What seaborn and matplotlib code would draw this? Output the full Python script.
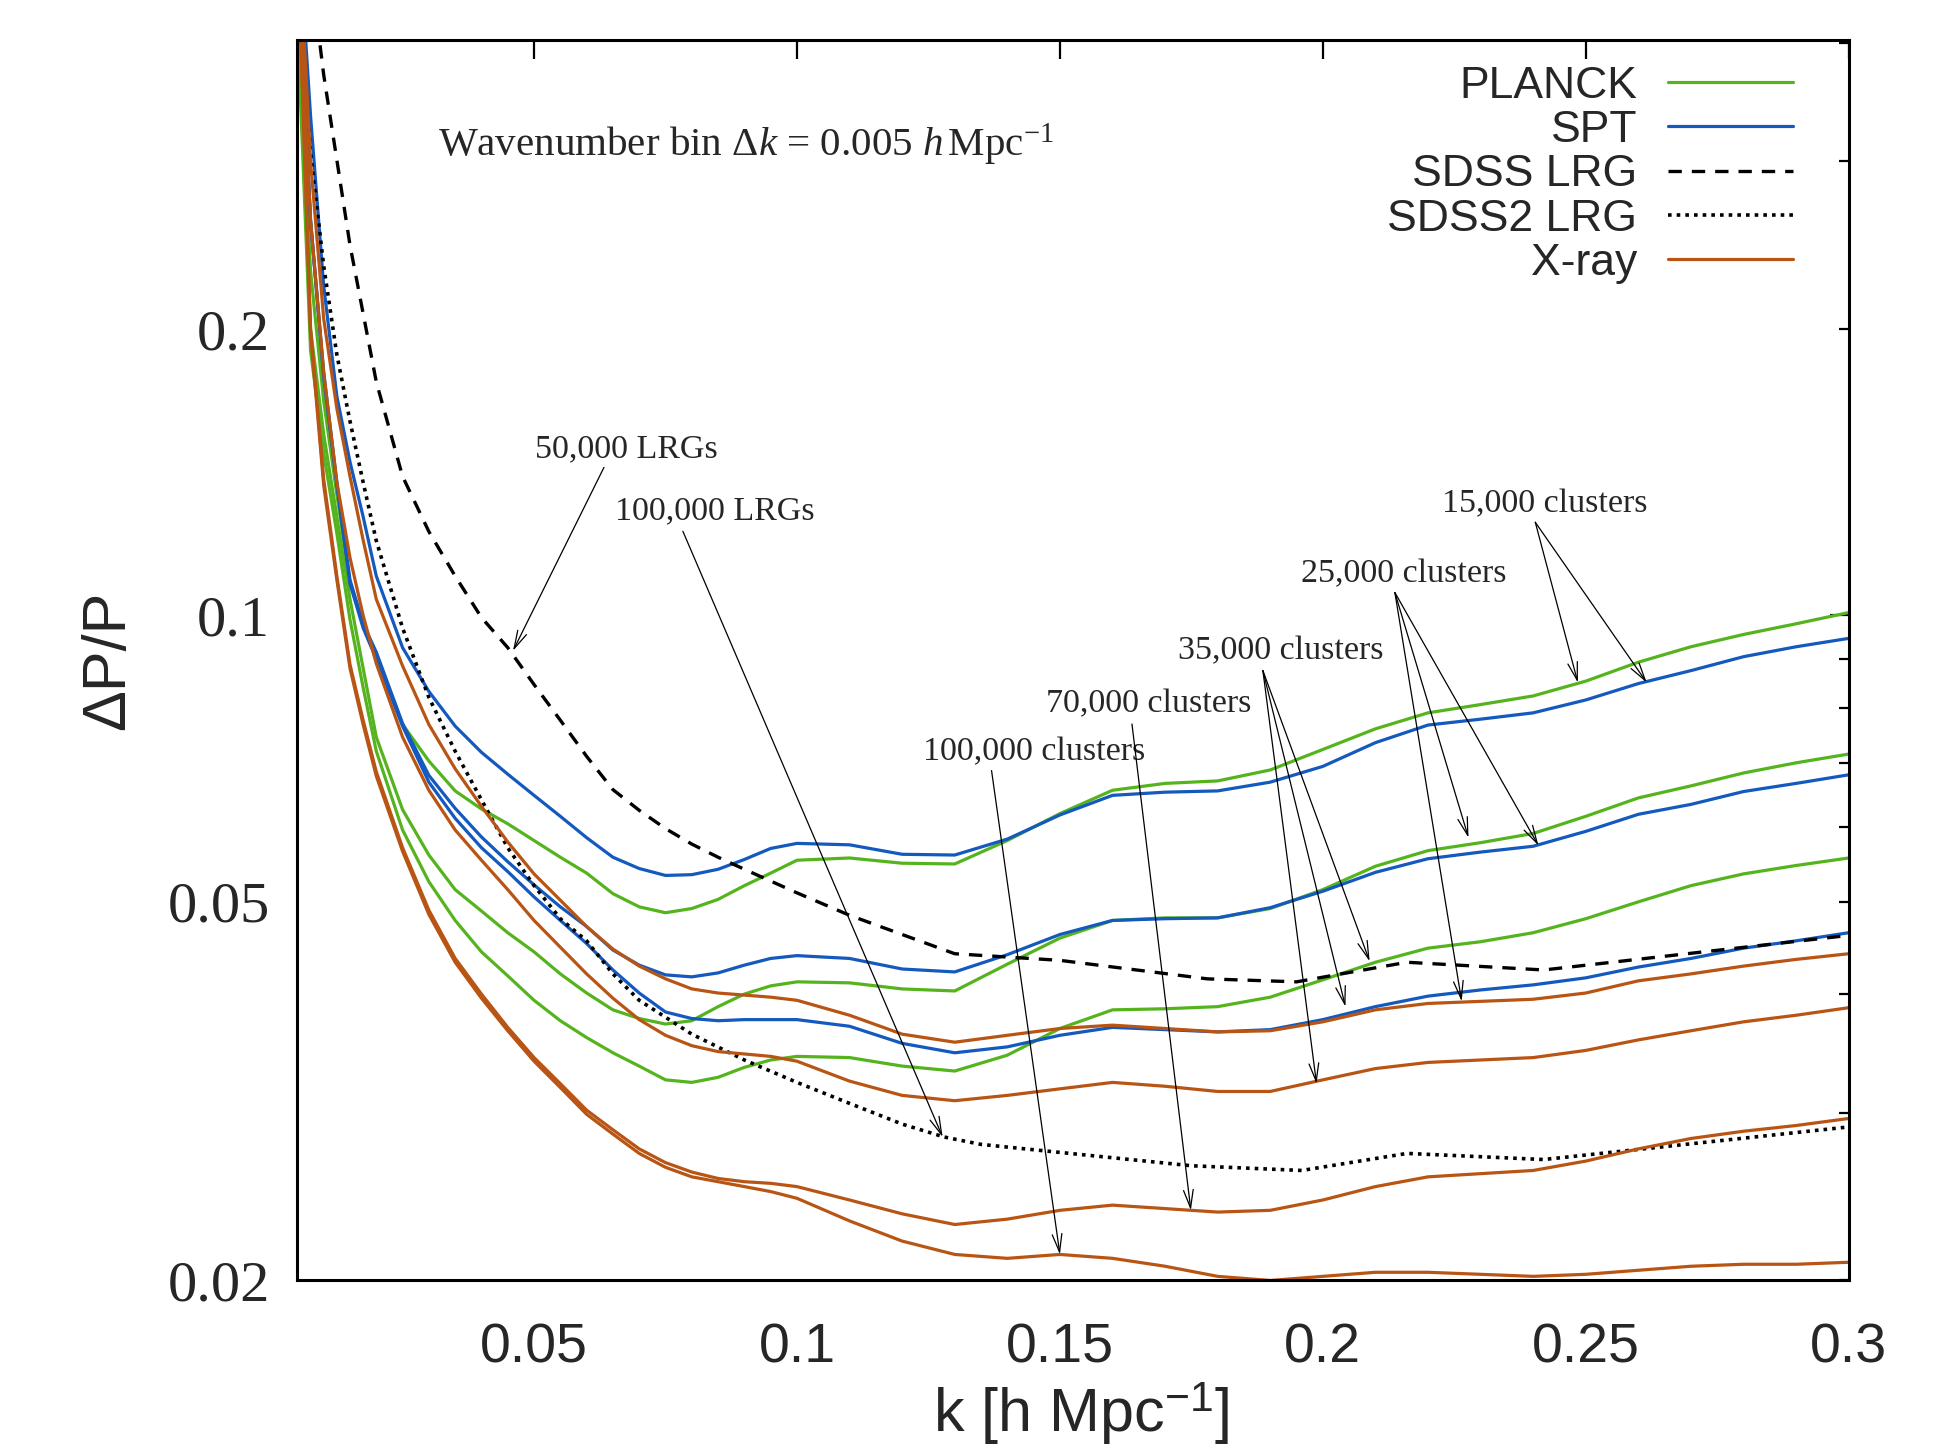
import numpy as np
import pandas as pd
import matplotlib
matplotlib.use('Agg')
import matplotlib.pyplot as plt
import seaborn as sns
from matplotlib.ticker import FixedLocator, FuncFormatter, NullLocator

# wavenumber grid [h/Mpc]
k_grid = [0.005, 0.0075, 0.01, 0.0125, 0.015, 0.0175, 0.02, 0.025, 0.03, 0.035,
          0.04, 0.045, 0.05, 0.055, 0.06, 0.065, 0.07, 0.075, 0.08, 0.085,
          0.09, 0.095, 0.1, 0.11, 0.12, 0.13, 0.14, 0.15, 0.16, 0.17,
          0.18, 0.19, 0.2, 0.21, 0.22, 0.23, 0.24, 0.25, 0.26, 0.27,
          0.28, 0.29, 0.3]

# PLANCK cluster samples
planck_15k = [0.45, 0.23, 0.168, 0.134, 0.108, 0.098, 0.091, 0.0768, 0.0703, 0.0654,
              0.0626, 0.0604, 0.0580, 0.0557, 0.0536, 0.0510, 0.0494, 0.0487, 0.0492, 0.0503,
              0.0520, 0.0536, 0.0553, 0.0556, 0.0549, 0.0548, 0.0580, 0.0619, 0.0655, 0.0666,
              0.0670, 0.0688, 0.0723, 0.0760, 0.0790, 0.0806, 0.0823, 0.0853, 0.0893, 0.0927,
              0.0955, 0.0980, 0.1007]
planck_25k = [0.43, 0.20, 0.155, 0.127, 0.104, 0.088, 0.0745, 0.0625, 0.0560, 0.0515,
              0.0489, 0.0464, 0.0443, 0.0420, 0.0401, 0.0385, 0.0377, 0.0372, 0.0375, 0.0388,
              0.0400, 0.0408, 0.0412, 0.0411, 0.0405, 0.0403, 0.0430, 0.0458, 0.0478, 0.0481,
              0.0481, 0.0492, 0.0515, 0.0545, 0.0566, 0.0577, 0.0590, 0.0615, 0.0643, 0.0662,
              0.0683, 0.0700, 0.0715]
planck_35k = [0.42, 0.19, 0.148, 0.122, 0.099, 0.084, 0.072, 0.0595, 0.0525, 0.0478,
              0.0443, 0.0418, 0.0394, 0.0375, 0.0360, 0.0347, 0.0336, 0.0325, 0.0323, 0.0327,
              0.0335, 0.0341, 0.0344, 0.0343, 0.0336, 0.0332, 0.0345, 0.0368, 0.0385, 0.0386,
              0.0388, 0.0397, 0.0414, 0.0432, 0.0447, 0.0454, 0.0464, 0.0480, 0.0500, 0.0520,
              0.0535, 0.0546, 0.0556]

# SPT cluster samples
spt_15k = [0.55, 0.335, 0.222, 0.170, 0.145, 0.127, 0.110, 0.0925, 0.0832, 0.0765,
           0.0718, 0.0681, 0.0647, 0.0615, 0.0584, 0.0557, 0.0542, 0.0533, 0.0534, 0.0541,
           0.0554, 0.0569, 0.0576, 0.0574, 0.0561, 0.0560, 0.0582, 0.0617, 0.0647, 0.0652,
           0.0654, 0.0668, 0.0694, 0.0735, 0.0767, 0.0778, 0.0790, 0.0815, 0.0848, 0.0875,
           0.0905, 0.0927, 0.0946]
spt_25k = [0.50, 0.26, 0.180, 0.138, 0.109, 0.098, 0.0915, 0.0770, 0.0679, 0.0627,
           0.0585, 0.0551, 0.0521, 0.0494, 0.0471, 0.0445, 0.0429, 0.0419, 0.0417, 0.0421,
           0.0429, 0.0436, 0.0439, 0.0436, 0.0425, 0.0422, 0.0440, 0.0462, 0.0478, 0.0480,
           0.0481, 0.0493, 0.0513, 0.0537, 0.0555, 0.0564, 0.0572, 0.0593, 0.0618, 0.0633,
           0.0653, 0.0666, 0.0680]
spt_35k = [0.50, 0.26, 0.178, 0.137, 0.108, 0.097, 0.090, 0.0765, 0.0668, 0.0612,
           0.0570, 0.0538, 0.0506, 0.0478, 0.0452, 0.0424, 0.0401, 0.0383, 0.0377, 0.0375,
           0.0376, 0.0376, 0.0376, 0.0370, 0.0355, 0.0347, 0.0352, 0.0362, 0.0369, 0.0367,
           0.0365, 0.0367, 0.0376, 0.0388, 0.0398, 0.0404, 0.0409, 0.0416, 0.0427, 0.0436,
           0.0447, 0.0455, 0.0464]

# X-ray cluster samples
xray_25k = [0.55, 0.30, 0.205, 0.165, 0.140, 0.120, 0.104, 0.0885, 0.0768, 0.0690,
            0.0630, 0.0578, 0.0535, 0.0502, 0.0471, 0.0446, 0.0428, 0.0415, 0.0405, 0.0401,
            0.0399, 0.0397, 0.0394, 0.0380, 0.0363, 0.0356, 0.0362, 0.0368, 0.0371, 0.0368,
            0.0365, 0.0366, 0.0374, 0.0385, 0.0391, 0.0393, 0.0395, 0.0401, 0.0413, 0.0420,
            0.0428, 0.0435, 0.0441]
xray_35k = [0.50, 0.26, 0.180, 0.138, 0.115, 0.100, 0.089, 0.0745, 0.0655, 0.0595,
            0.0553, 0.0515, 0.0478, 0.0448, 0.0420, 0.0396, 0.0376, 0.0362, 0.0353, 0.0348,
            0.0346, 0.0344, 0.0340, 0.0324, 0.0313, 0.0309, 0.0313, 0.0318, 0.0323, 0.0320,
            0.0316, 0.0316, 0.0325, 0.0334, 0.0339, 0.0341, 0.0343, 0.0349, 0.0358, 0.0366,
            0.0374, 0.0380, 0.0387]
xray_70k = [0.52, 0.20, 0.139, 0.110, 0.0888, 0.0776, 0.0685, 0.0570, 0.0490, 0.0436,
            0.0400, 0.0369, 0.0343, 0.0322, 0.0302, 0.0288, 0.0275, 0.0266, 0.0260, 0.0256,
            0.0254, 0.0253, 0.0251, 0.0243, 0.0235, 0.0229, 0.0232, 0.0237, 0.0240, 0.0238,
            0.0236, 0.0237, 0.0243, 0.0251, 0.0257, 0.0259, 0.0261, 0.0267, 0.0275, 0.0282,
            0.0287, 0.0291, 0.0296]
xray_100k = [0.51, 0.198, 0.137, 0.109, 0.0880, 0.0768, 0.0678, 0.0565, 0.0485, 0.0432,
             0.0396, 0.0366, 0.0340, 0.0319, 0.0299, 0.0285, 0.0272, 0.0263, 0.0257, 0.0254,
             0.0251, 0.0248, 0.0244, 0.0231, 0.0220, 0.0213, 0.0211, 0.0213, 0.0211, 0.0207,
             0.0202, 0.0200, 0.0202, 0.0204, 0.0204, 0.0203, 0.0202, 0.0203, 0.0205, 0.0207,
             0.0208, 0.0208, 0.0209]

# SDSS LRG surveys
sdss_k = [0.005, 0.01, 0.015, 0.02, 0.025, 0.03, 0.035, 0.04, 0.045, 0.05,
          0.055, 0.06, 0.065, 0.07, 0.075, 0.08, 0.085, 0.09, 0.1, 0.11,
          0.12, 0.13, 0.15, 0.178, 0.195, 0.216, 0.242, 0.3]
sdss_lrg = [0.62, 0.37, 0.245, 0.176, 0.140, 0.1225, 0.110, 0.0995, 0.0925, 0.0846,
            0.0776, 0.0711, 0.0656, 0.0624, 0.0597, 0.0575, 0.0557, 0.0541, 0.0511, 0.0484,
            0.0462, 0.0441, 0.0434, 0.0415, 0.0412, 0.0432, 0.0424, 0.0461]
sdss2_k = [0.005, 0.0075, 0.01, 0.0125, 0.015, 0.0175, 0.02, 0.025, 0.03, 0.035,
           0.04, 0.045, 0.05, 0.055, 0.06, 0.065, 0.07, 0.08, 0.09, 0.1,
           0.11, 0.12, 0.128, 0.135, 0.175, 0.196, 0.216, 0.242, 0.3]
sdss2_lrg = [0.45, 0.306, 0.233, 0.188, 0.160, 0.138, 0.1198, 0.097, 0.082, 0.072,
             0.064, 0.057, 0.052, 0.048, 0.0455, 0.042, 0.0394, 0.0363, 0.0341, 0.0323,
             0.0307, 0.0292, 0.0283, 0.0278, 0.0264, 0.0261, 0.0272, 0.0268, 0.0290]

# annotation labels, text anchors and arrows (tail -> head) in data coords
ann_texts = ['50,000 LRGs', '100,000 LRGs', '15,000 clusters', '25,000 clusters',
             '35,000 clusters', '70,000 clusters', '100,000 clusters']
ann_text_k = [0.0501, 0.0653, 0.2227, 0.1959, 0.1725, 0.1474, 0.124]
ann_text_v = [0.1495, 0.1288, 0.1310, 0.1105, 0.0918, 0.0807, 0.0718]
arrows = [
    (0.0633, 0.1431, 0.0460, 0.0918),
    (0.0783, 0.1226, 0.1277, 0.0283),
    (0.2404, 0.1253, 0.2485, 0.0850),
    (0.2404, 0.1253, 0.2616, 0.0850),
    (0.2137, 0.1057, 0.2277, 0.0584),
    (0.2137, 0.1057, 0.2410, 0.0573),
    (0.2137, 0.1057, 0.2264, 0.0393),
    (0.1886, 0.0875, 0.2089, 0.0433),
    (0.1886, 0.0875, 0.2043, 0.0388),
    (0.1886, 0.0875, 0.1988, 0.0322),
    (0.1637, 0.0769, 0.1749, 0.0237),
    (0.1370, 0.0687, 0.1500, 0.0213),
]

x_ticks = [0.05, 0.1, 0.15, 0.2, 0.25, 0.3]
x_tick_labels = ['0.05', '0.1', '0.15', '0.2', '0.25', '0.3']
y_labels = {0.02: '0.02', 0.05: '0.05', 0.1: '0.1', 0.2: '0.2'}

sns.set_style('white')
plt.rcParams['font.family'] = ['Liberation Sans', 'DejaVu Sans']
plt.rcParams['mathtext.fontset'] = 'custom'
plt.rcParams['mathtext.rm'] = 'Liberation Serif'
plt.rcParams['mathtext.it'] = 'Liberation Serif:italic'
plt.rcParams['mathtext.sf'] = 'Liberation Sans'

green, blue, orange = '#55b41e', '#1459be', '#b95514'
lw = 2.3

fig = plt.figure(figsize=(19.35, 14.48), dpi=100)
ax = fig.add_axes([0.1537, 0.1157, 0.8017, 0.857])

cluster_curves = [
    ('PLANCK', green, planck_15k), (None, green, planck_25k), (None, green, planck_35k),
    ('SPT', blue, spt_15k), (None, blue, spt_25k), (None, blue, spt_35k),
]
for lab, col, vals in cluster_curves:
    kw = {'label': lab} if lab else {}
    sns.lineplot(x=k_grid, y=vals, color=col, lw=lw, legend=False, ax=ax, **kw)

sns.lineplot(x=sdss_k, y=sdss_lrg, color='black', lw=2.4, linestyle=(0, (4, 3)),
             legend=False, ax=ax, label='SDSS LRG')
sns.lineplot(x=sdss2_k, y=sdss2_lrg, color='black', lw=2.6, linestyle=(0, (1, 1.4)),
             legend=False, ax=ax, label='SDSS2 LRG')

for lab, vals in [('X-ray', xray_25k), (None, xray_35k), (None, xray_70k), (None, xray_100k)]:
    kw = {'label': lab} if lab else {}
    sns.lineplot(x=k_grid, y=vals, color=orange, lw=lw, legend=False, ax=ax, **kw)

ax.set_yscale('log')
ax.set_xlim(0.005, 0.3)
ax.set_ylim(0.02, 0.403)

ax.set_xticks(x_ticks, labels=x_tick_labels)
ax.xaxis.set_minor_locator(NullLocator())
ax.yaxis.set_major_locator(FixedLocator([0.1]))
ax.yaxis.set_minor_locator(FixedLocator([0.02, 0.03, 0.04, 0.05, 0.06, 0.07, 0.08, 0.09,
                                         0.2, 0.3, 0.4]))
fmt = FuncFormatter(lambda v, p: y_labels.get(round(v, 3), ''))
ax.yaxis.set_major_formatter(fmt)
ax.yaxis.set_minor_formatter(fmt)

ax.tick_params(axis='both', which='both', direction='in', top=True, right=True,
               width=1.6, color='black')
ax.tick_params(axis='x', which='major', length=14, pad=30, labelsize=40)
ax.tick_params(axis='y', which='major', length=14)
ax.tick_params(axis='y', which='minor', length=7)
ax.tick_params(axis='y', which='both', pad=20, labelsize=42,
               labelfontfamily='Liberation Serif')
for s in ax.spines.values():
    s.set_linewidth(2.2)
    s.set_color('black')

ax.set_xlabel(r'k [h Mpc$^{\mathsf{-1}}$]', fontsize=44)
ax.xaxis.set_label_coords(0.505, -0.107)
ax.xaxis.label.set_va('center')
ax.set_ylabel('ΔP/P', fontsize=44)
ax.yaxis.set_label_coords(-0.122, 0.5)
ax.yaxis.label.set_va('center')

ax.text(0.0318, 0.312, r'Wavenumber bin Δ$k$ = 0.005 $h\,$Mpc$^{-1}$',
        fontsize=29.5, family='Liberation Serif', ha='left', va='center')
for t, xk, yv in zip(ann_texts, ann_text_k, ann_text_v):
    ax.text(xk, yv, t, fontsize=24.5, family='Liberation Serif', ha='left', va='center')
for tk, tv, hk, hv in arrows:
    ax.annotate('', xy=(hk, hv), xytext=(tk, tv),
                arrowprops=dict(arrowstyle='->,head_length=1.3,head_width=0.35',
                                mutation_scale=10, lw=0.9, color='black',
                                shrinkA=0, shrinkB=0))

handles, labels = ax.get_legend_handles_labels()
hmap = dict(zip(labels, handles))
order = ['PLANCK', 'SPT', 'SDSS LRG', 'SDSS2 LRG', 'X-ray']
ax.legend([hmap[o] for o in order], order, loc='upper right',
          bbox_to_anchor=(0.9641, 0.979), frameon=False, markerfirst=False,
          fontsize=32, handlelength=2.81, handletextpad=0.7, labelspacing=0.075,
          borderpad=0, borderaxespad=0)

fig.savefig('out.png', dpi=100)
